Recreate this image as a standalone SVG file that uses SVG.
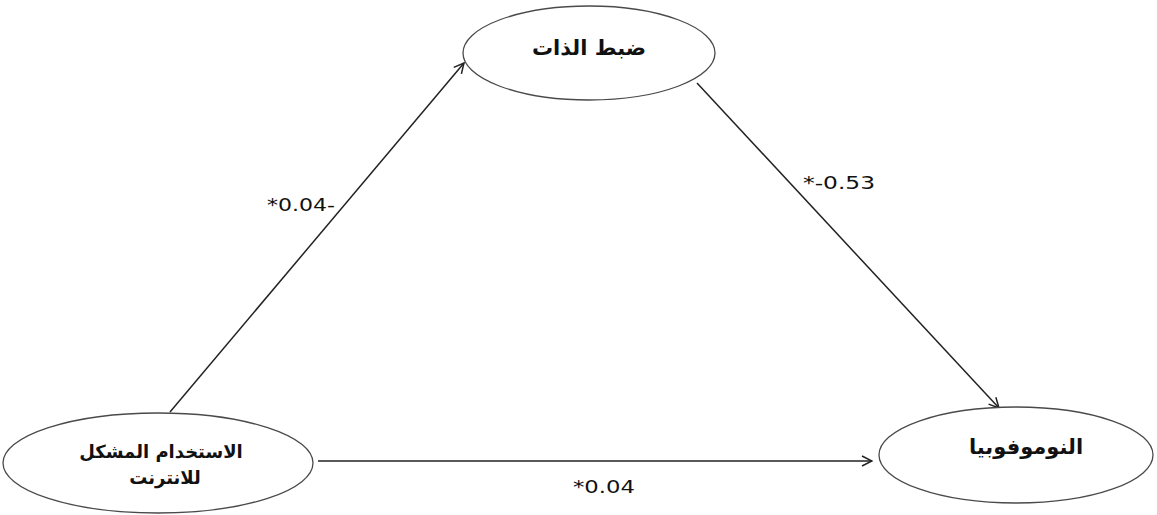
<svg xmlns="http://www.w3.org/2000/svg" width="1157" height="515" viewBox="0 0 1157 515">
<defs>
<style>
.node{fill:#ffffff;stroke:#4a4a4a;stroke-width:1.3}
.lbl{font-family:"DejaVu Sans","Noto Sans",sans-serif;font-weight:bold;font-size:21px;fill:#111;text-anchor:middle}
.lbl2{font-size:18px}
.edge{stroke:#222;stroke-width:1.5;fill:none;marker-end:url(#arr)}
.num{font-family:"DejaVu Sans","Liberation Sans",sans-serif;font-size:17px;fill:#111}
</style>
<marker id="arr" viewBox="0 0 12 12" refX="11" refY="6" markerWidth="12" markerHeight="12" markerUnits="userSpaceOnUse" orient="auto">
<path d="M1,1 L11,6 L1,11" fill="none" stroke="#222" stroke-width="1.5"/>
</marker>
</defs>
<rect width="1157" height="515" fill="#ffffff"/>
<g id="connectors">
<line class="edge" x1="170" y1="412" x2="464" y2="63"/>
<line class="edge" x1="697" y1="83" x2="999" y2="408"/>
<line class="edge" x1="318" y1="461" x2="872" y2="461"/>
<text class="num" x="267" y="211" textLength="68" lengthAdjust="spacingAndGlyphs">*0.04-</text>
<text class="num" x="803" y="189" textLength="72" lengthAdjust="spacingAndGlyphs">*-0.53</text>
<text class="num" x="573" y="493" textLength="62" lengthAdjust="spacingAndGlyphs">*0.04</text>
</g>
<g id="self-control">
<ellipse class="node" cx="589" cy="53" rx="126" ry="47"/>
<text class="lbl" x="589" y="55" direction="rtl">ضبط الذات</text>
</g>
<g id="internet-use">
<ellipse class="node" cx="158" cy="463" rx="155" ry="50"/>
<text class="lbl lbl2" x="161" y="458" direction="rtl">الاستخدام المشكل</text>
<text class="lbl lbl2" x="165" y="484" direction="rtl">للانترنت</text>
</g>
<g id="nomophobia">
<ellipse class="node" cx="1016" cy="455" rx="137" ry="48"/>
<text class="lbl" x="1026" y="454" direction="rtl">النوموفوبيا</text>
</g>
</svg>
